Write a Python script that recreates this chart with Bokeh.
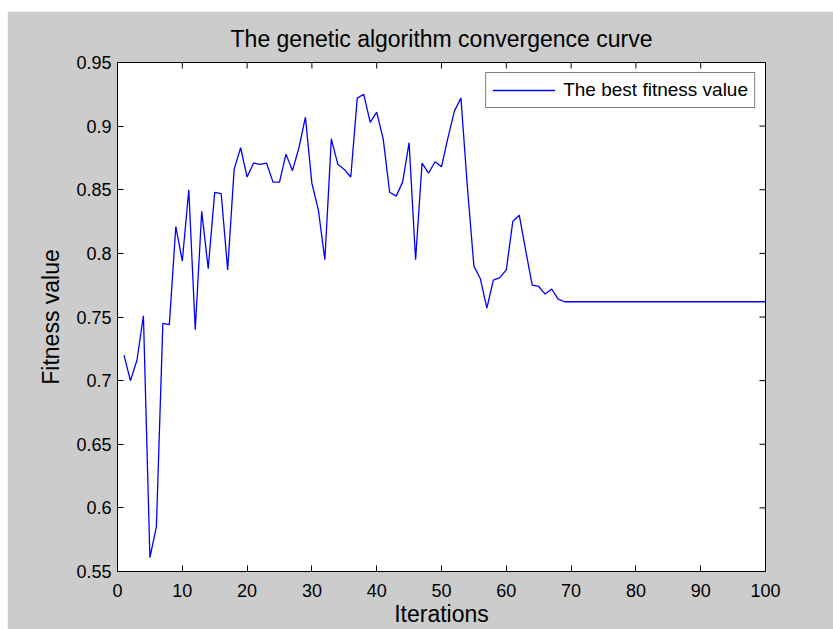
import math
from bokeh.plotting import figure
from bokeh.models import Range1d, FixedTicker, Legend, LegendItem, Spacer
from bokeh.layouts import column, row
from bokeh.embed import file_html
from bokeh.resources import INLINE

iterations = list(range(1, 101))
best_fitness = [
    0.720, 0.700, 0.716, 0.751, 0.561, 0.585, 0.745, 0.744, 0.821, 0.794,
    0.850, 0.740, 0.833, 0.788, 0.848, 0.847, 0.787, 0.866, 0.883, 0.860,
    0.871, 0.870, 0.871, 0.856, 0.856, 0.878, 0.865, 0.883, 0.907, 0.855,
    0.834, 0.795, 0.890, 0.870, 0.866, 0.860, 0.922, 0.925, 0.903, 0.911,
    0.890, 0.848, 0.845, 0.856, 0.887, 0.795, 0.871, 0.863, 0.872, 0.868,
    0.891, 0.912, 0.922, 0.852, 0.790, 0.780, 0.757, 0.779, 0.781, 0.787,
    0.825, 0.830, 0.802, 0.775, 0.774, 0.768, 0.772, 0.764, 0.762, 0.762,
    0.762, 0.762, 0.762, 0.762, 0.762, 0.762, 0.762, 0.762, 0.762, 0.762,
    0.762, 0.762, 0.762, 0.762, 0.762, 0.762, 0.762, 0.762, 0.762, 0.762,
    0.762, 0.762, 0.762, 0.762, 0.762, 0.762, 0.762, 0.762, 0.762, 0.762,
]
x_ticks = [0, 10, 20, 30, 40, 50, 60, 70, 80, 90, 100]
y_ticks = [0.55, 0.6, 0.65, 0.7, 0.75, 0.8, 0.85, 0.9, 0.95]
y_tick_labels = ["0.55", "0.6", "0.65", "0.7", "0.75", "0.8", "0.85", "0.9", "0.95"]
x_min, x_max = 0, 100
y_min, y_max = 0.55, 0.95

title_text = "The genetic algorithm convergence curve"
x_label = "Iterations"
y_label = "Fitness value"
legend_label = "The best fitness value"

FONT = "Liberation Sans"
BG = "#cccccc"

p = figure(width=826, height=618, output_backend="svg", toolbar_location=None,
           x_range=Range1d(x_min, x_max), y_range=Range1d(y_min, y_max),
           min_border_left=110, min_border_right=68, min_border_top=51, min_border_bottom=57,
           title=title_text)
p.background_fill_color = "white"
p.border_fill_color = BG
p.outline_line_color = "black"
p.outline_line_width = 1
p.grid.visible = False

p.title.text_font = FONT
p.title.text_font_size = "23px"
p.title.text_font_style = "normal"
p.title.align = "center"
p.title.text_color = "black"
p.title.standoff = 21

r = p.line(iterations, best_fitness, line_color="#0000ff", line_width=1.3)

# mirrored inward ticks on the top and right edges (box on)
p.ray(x=x_ticks, y=[y_max] * len(x_ticks), length=6, length_units="screen",
      angle=-math.pi / 2, line_color="black", line_width=1)
p.ray(x=[x_max] * len(y_ticks), y=y_ticks, length=6, length_units="screen",
      angle=math.pi, line_color="black", line_width=1)

xa = p.xaxis[0]
ya = p.yaxis[0]
xa.ticker = FixedTicker(ticks=x_ticks)
ya.ticker = FixedTicker(ticks=y_ticks)
ya.major_label_overrides = {t: l for t, l in zip(y_ticks, y_tick_labels)}
xa.axis_label = x_label
ya.axis_label = y_label

for ax in (xa, ya):
    ax.axis_line_color = "black"
    ax.major_tick_line_color = "black"
    ax.minor_tick_line_color = None
    ax.major_tick_in = 6
    ax.major_tick_out = 0
    ax.major_label_text_font = FONT
    ax.major_label_text_font_size = "18px"
    ax.major_label_text_color = "black"
    ax.axis_label_text_font = FONT
    ax.axis_label_text_font_size = "23px"
    ax.axis_label_text_font_style = "normal"
    ax.axis_label_text_color = "black"

xa.major_label_standoff = 12
xa.axis_label_standoff = 1
ya.major_label_standoff = 6
ya.axis_label_standoff = 9

legend = Legend(items=[LegendItem(label=legend_label, renderers=[r])],
                location="top_right")
legend.label_text_font = FONT
legend.label_text_font_size = "19px"
legend.label_text_color = "black"
legend.border_line_color = "black"
legend.border_line_width = 1
legend.background_fill_color = "white"
legend.background_fill_alpha = 1
legend.glyph_width = 63
legend.label_standoff = 8
legend.padding = 6
legend.margin = 10
p.add_layout(legend, "center")

layout = column(Spacer(width=833, height=11),
                row(Spacer(width=7, height=618), p))

open("out.html", "w").write(file_html(layout, INLINE))
